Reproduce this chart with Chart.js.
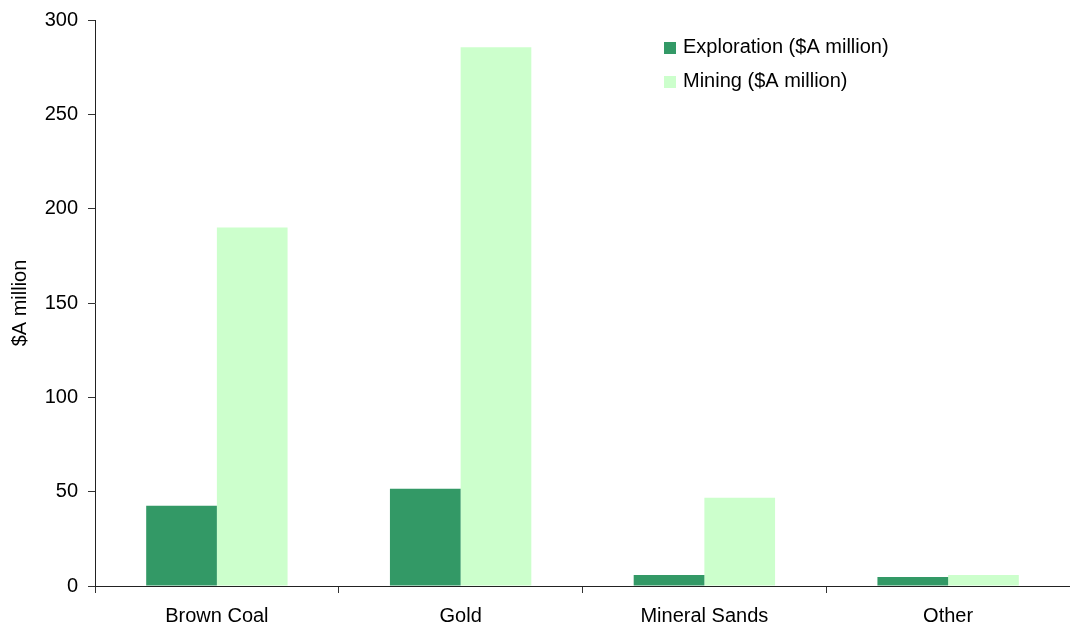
<!DOCTYPE html>
<html>
<head>
<meta charset="utf-8">
<script src="https://cdn.jsdelivr.net/npm/chart.js@4/dist/chart.umd.min.js"></script>
<style>
html,body{margin:0;padding:0;background:#fff;}
#wrap{width:1070px;height:628px;position:relative;}
</style>
</head>
<body>
<div id="wrap"><canvas id="c" width="1070" height="628"></canvas></div>
<script>
const categories = ["Brown Coal", "Gold", "Mineral Sands", "Other"];
const exploration = [42.5, 51.5, 5.8, 4.8];
const mining = [190, 285.5, 46.8, 5.8];
const seriesNames = ["Exploration ($A million)", "Mining ($A million)"];
const yTicks = [0, 50, 100, 150, 200, 250, 300];

const FONT = "'Liberation Sans', Arial, sans-serif";

const legendPlugin = {
  id: 'customLegend',
  afterDraw(chart) {
    const ctx = chart.ctx;
    ctx.save();
    ctx.font = "20px " + FONT;
    ctx.textBaseline = 'middle';
    chart.data.datasets.forEach((ds, i) => {
      const y = 47 + i * 34;
      ctx.fillStyle = ds.backgroundColor;
      ctx.fillRect(664, y - 5, 12, 12);
      ctx.fillStyle = '#000';
      ctx.fillText(ds.label, 683, y);
    });
    ctx.restore();
  }
};

new Chart(document.getElementById('c'), {
  type: 'bar',
  data: {
    labels: categories,
    datasets: [
      { label: seriesNames[0], data: exploration, backgroundColor: '#339966', categoryPercentage: 0.58, barPercentage: 1.0 },
      { label: seriesNames[1], data: mining, backgroundColor: '#CCFFCC', categoryPercentage: 0.58, barPercentage: 1.0 }
    ]
  },
  options: {
    responsive: false,
    animation: false,
    devicePixelRatio: 1,
    layout: { padding: { top: 20, right: 0, left: 0, bottom: 0 } },
    plugins: { legend: { display: false }, tooltip: { enabled: false } },
    scales: {
      x: {
        offset: true,
        grid: { display: true, offset: true, drawOnChartArea: false, tickLength: 7, color: '#333', tickWidth: 1 },
        border: { display: true, color: '#222', width: 1 },
        ticks: { color: '#000', font: { family: FONT, size: 20 }, padding: 11, maxRotation: 0 },
        afterFit(scale) { scale.height = 42; scale.paddingLeft = 0; scale.paddingRight = 0; }
      },
      y: {
        min: 0, max: 300,
        afterBuildTicks(scale) { scale.ticks = yTicks.map(v => ({ value: v })); },
        grid: { display: true, drawOnChartArea: false, tickLength: 7, color: '#333' },
        border: { display: true, color: '#222', width: 1 },
        ticks: { color: '#000', font: { family: FONT, size: 20 }, padding: 10 },
        title: { display: true, text: '$A million', color: '#000', font: { family: FONT, size: 20 }, padding: { top: 8, bottom: 0 } },
        afterFit(scale) { scale.width = 95; scale.paddingTop = 0; scale.paddingBottom = 0; }
      }
    }
  },
  plugins: [legendPlugin]
});
</script>
</body>
</html>
